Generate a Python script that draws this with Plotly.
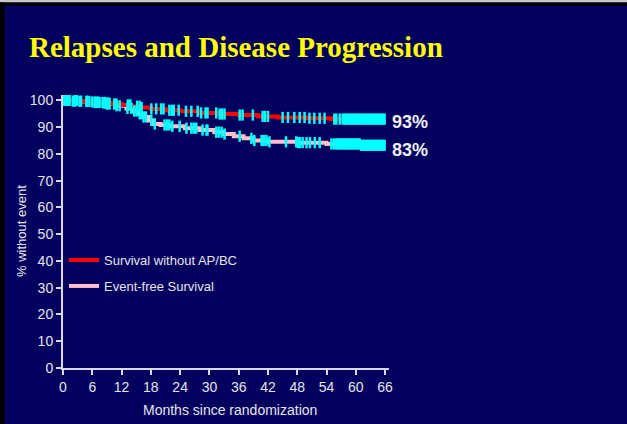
import plotly.graph_objects as go

# ---------------- data ----------------
title_text = "Relapses and Disease Progression"
x_title = "Months since randomization"
y_title = "% without event"
x_ticks = [0, 6, 12, 18, 24, 30, 36, 42, 48, 54, 60, 66]
y_ticks = [0, 10, 20, 30, 40, 50, 60, 70, 80, 90, 100]

series_names = ["Survival without AP/BC", "Event-free Survival"]

ap_months = [0, 2, 5, 8, 10, 12, 14, 16, 18, 21, 24, 28, 32, 36, 40, 44, 50, 55, 66]
ap_values = [100, 99.7, 99.4, 99.0, 98.7, 98.3, 97.8, 97.3, 96.8, 96.3, 95.9, 95.3,
             94.9, 94.5, 94.0, 93.6, 93.3, 93.0, 93.0]

efs_months = [0, 3, 6, 9, 11, 13, 14.5, 15.5, 16.5, 17.5, 18.5, 20, 22, 25, 28, 31, 33,
              35, 37, 39, 42, 48, 54, 61, 66]
efs_values = [100, 99.6, 99.2, 98.6, 98.0, 97.0, 96.0, 95.0, 93.8, 92.5, 91.2, 90.8, 90.3,
              89.6, 88.9, 88.1, 87.4, 86.6, 85.8, 85.0, 84.5, 84.2, 83.7, 83.2, 83.2]

ap_censor = [0.3, 0.8, 1.3, 2.0, 2.5, 3.7, 4.9, 6.0, 6.6, 7.1, 8.3, 8.7, 9.1, 9.5, 10.9,
             13.3, 13.8, 15.2, 15.7, 16.1, 18.1, 19.1, 20.1, 20.6, 21.8, 22.3, 22.7, 23.7,
             25.2, 26.3, 27.6, 28.3, 29.2, 29.6, 31.4, 32.1, 32.6, 33.1, 36.2, 36.8, 38.9,
             40.9, 41.4, 42.0, 45.0, 46.1, 47.4, 48.5, 49.5, 50.5, 51.5, 52.6, 53.6, 55.6,
             56.0, 56.7, 57.3, 57.6, 57.9, 58.2, 58.5, 58.8, 59.1, 59.4, 59.7, 60.0, 60.3,
             60.6, 60.9, 61.2, 61.5, 61.8, 62.1, 62.4, 62.7, 63.0, 63.3, 63.6, 63.9, 64.2,
             64.5, 64.8, 65.1, 65.4, 65.7, 65.9]

efs_censor = [0.3, 0.8, 1.3, 2.4, 2.9, 3.4, 4.8, 5.4, 6.5, 7.0, 7.5, 8.1, 8.6, 9.0, 9.5,
              10.5, 11.0, 11.6, 13.2, 14.0, 14.6, 15.1, 15.7, 16.0, 16.5, 17.0, 18.1, 18.8,
              20.8, 21.3, 21.8, 22.4, 23.9, 25.3, 26.3, 26.8, 27.3, 28.6, 29.4, 29.6, 31.4,
              31.9, 32.5, 33.1, 36.2, 38.6, 39.2, 40.7, 41.2, 41.7, 42.3, 45.7, 47.8, 48.2,
              48.5, 49.1, 49.9, 50.6, 51.6, 52.6, 55.0, 55.5, 56.0, 56.3, 56.6, 56.9, 57.2,
              57.5, 57.8, 58.1, 58.4, 58.7, 59.0, 59.3, 59.6, 59.9, 60.2, 60.5, 60.8, 61.1,
              61.4, 61.7, 62.0, 62.3, 62.6, 62.9, 63.2, 63.5, 63.8, 64.1, 64.4, 64.7, 65.0,
              65.3, 65.6, 65.9]

end_labels = ["93%", "83%"]
end_values = [93, 83]

# ---------------- styling / layout ----------------
W, H = 627, 424
PL, PR, PT, PB = 63, 389, 95, 368   # plot area pixel box
BG = "#03005E"
TXT = "#E4E4EC"
AX = "#D8D8E4"
SANS = "Liberation Sans, Arial, sans-serif"


def px(x):
    return (x - PL) / (PR - PL)


def py(y):
    return (PB - y) / (PB - PT)


def km_step(months, values, censor):
    ys = []
    for c in censor:
        v = values[0]
        for m, val in zip(months, values):
            if m <= c:
                v = val
        ys.append(v)
    return ys


fig = go.Figure()

curves = [
    (ap_months, ap_values, ap_censor, "#FF0000", series_names[0], "legend"),
    (efs_months, efs_values, efs_censor, "#FFC0CB", series_names[1], "legend2"),
]
for months, values, censor, col, name, lg in curves[::-1]:
    fig.add_trace(go.Scatter(
        x=months, y=values, mode="lines", line=dict(color=col, width=4, shape="hv"),
        name=name, legend=lg, showlegend=True, hoverinfo="skip"))
for months, values, censor, col, name, lg in curves[::-1]:
    fig.add_trace(go.Scatter(
        x=censor, y=km_step(months, values, censor), mode="markers",
        marker=dict(symbol="line-ns", size=8, color="#00FFFF",
                    line=dict(color="#00FFFF", width=2.5)),
        showlegend=False, hoverinfo="skip"))

fig.update_layout(
    width=W, height=H,
    margin=dict(l=PL, r=W - PR, t=PT, b=H - PB, pad=0),
    paper_bgcolor=BG, plot_bgcolor=BG,
    font=dict(family=SANS, color=TXT, size=14),
    xaxis=dict(range=[0, 66.8], tickvals=x_ticks, ticktext=[str(v) for v in x_ticks],
               showgrid=False, zeroline=False, showline=True, linecolor=AX, linewidth=2,
               ticks="outside", ticklen=5, tickwidth=2, tickcolor=AX,
               tickfont=dict(size=14, color=TXT), fixedrange=True),
    yaxis=dict(range=[0, 102], tickvals=y_ticks, ticktext=[str(v) for v in y_ticks],
               showgrid=False, zeroline=False, showline=True, linecolor=AX, linewidth=2,
               ticks="outside", ticklen=5, tickwidth=2, tickcolor=AX,
               tickfont=dict(size=14, color=TXT), fixedrange=True),
    legend=dict(x=px(64), y=py(260), xanchor="left", yanchor="middle",
                bgcolor="rgba(0,0,0,0)", borderwidth=0, itemwidth=30,
                font=dict(family=SANS, size=13, color=TXT)),
    legend2=dict(x=px(64), y=py(286), xanchor="left", yanchor="middle",
                 bgcolor="rgba(0,0,0,0)", borderwidth=0, itemwidth=30,
                 font=dict(family=SANS, size=13, color=TXT)),
    showlegend=True,
)

annotations = [
    dict(text=f"<b>{title_text}</b>", x=px(27), y=py(47), xanchor="left", yanchor="middle",
         xref="paper", yref="paper", showarrow=False,
         font=dict(family="Liberation Serif, Times New Roman, serif", size=29, color="#FFFF00")),
    dict(text=x_title, x=px(230), y=py(410), xanchor="center", yanchor="middle",
         xref="paper", yref="paper", showarrow=False, font=dict(size=14, color=TXT)),
    dict(text=y_title, x=px(21), y=py(231), xanchor="center", yanchor="middle",
         xref="paper", yref="paper", showarrow=False, textangle=-90,
         font=dict(size=13, color=TXT)),
]
for lab, val in zip(end_labels, end_values):
    annotations.append(dict(text=f"<b>{lab}</b>", x=66.8, y=val, xref="x", yref="y",
                            xanchor="left", yanchor="middle", xshift=1,
                            yshift=-3 if val > 90 else -4, showarrow=False,
                            font=dict(family=SANS, size=18, color="#F0F0F4")))
fig.update_layout(annotations=annotations)

shapes = [
    dict(type="rect", xref="paper", yref="paper", x0=px(0), x1=px(W), y0=py(0), y1=py(2.5),
         fillcolor="#C8C8C8", line=dict(width=0), layer="above"),
    dict(type="rect", xref="paper", yref="paper", x0=px(0), x1=px(W), y0=py(2.5), y1=py(5.5),
         fillcolor="#000000", line=dict(width=0), layer="above"),
    dict(type="rect", xref="paper", yref="paper", x0=px(0), x1=px(4.5), y0=py(2.5), y1=py(H),
         fillcolor="#000000", line=dict(width=0), layer="above"),
]
fig.update_layout(shapes=shapes)

fig.write_html("out.html", config={"displayModeBar": False},
               post_script="document.body.style.margin='0';document.body.style.padding='0';document.body.style.overflow='hidden';")
